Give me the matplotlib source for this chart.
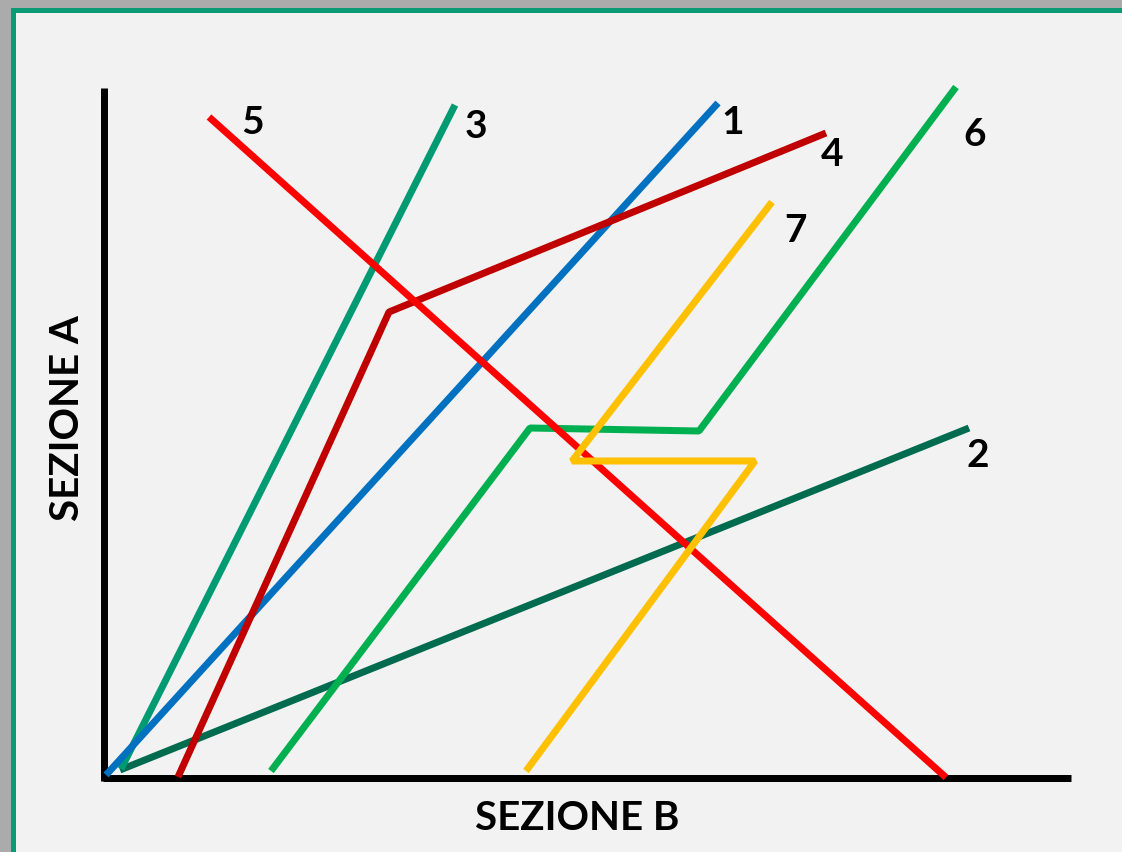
import matplotlib
matplotlib.use("Agg")
import matplotlib.pyplot as plt
from matplotlib.patches import Rectangle

plt.rcParams['font.family'] = ['Lato', 'DejaVu Sans']

# Data: every path in axis units (origin at the corner of the two black axes)
names = ['1', '2', '3', '4', '5', '6', '7']
colors = ['#0070c0', '#006b4e', '#009b72', '#c00000', '#ff0000', '#00b050', '#ffc000']

path_x = {
    '1': [2.5, 614.5],
    '2': [16.5, 865.5],
    '3': [17.5, 351.5],
    '4': [74.5, 285.5, 722.5],
    '5': [105.5, 842.5],
    '6': [167.5, 426.5, 595.5, 852.5],
    '7': [422.5, 651.5, 468.5, 668.5],
}
path_y = {
    '1': [2.5, 674.5],
    '2': [7.5, 349.5],
    '3': [8.5, 672.5],
    '4': [0.5, 465.5, 644.5],
    '5': [660.5, 0.0],
    '6': [6.5, 349.5, 346.5, 690.5],
    '7': [6.5, 316.5, 316.5, 575.5],
}

# where each number sits
label_x = {'1': 629.5, '2': 874.5, '3': 372.5, '4': 728.5, '5': 149.5, '6': 871.5, '7': 692.5}
label_y = {'1': 655.5, '2': 322.5, '3': 652.5, '4': 624.5, '5': 655.5, '6': 644.5, '7': 547.5}

x_label = 'SEZIONE B'
y_label = 'SEZIONE A'

W, H = 1122, 853
fig = plt.figure(figsize=(W / 100, H / 100), dpi=100)
fig.patch.set_facecolor('#ababab')

# background panel with green frame
bg = fig.add_axes([0, 0, 1, 1])
bg.set_xlim(0, W)
bg.set_ylim(H, 0)
bg.axis('off')
bg.add_patch(Rectangle((13.5, 10.5), W + 20, H + 20, facecolor='#f2f2f2',
                       edgecolor='#0b9a74', linewidth=3.6))

# chart axes
x0, y0 = 103.5, 778.5
xmax, ymax = 967.5, 689.5
ax = fig.add_axes([x0 / W, (H - y0) / H, xmax / W, ymax / H])
ax.set_xlim(0, xmax)
ax.set_ylim(0, ymax)
ax.patch.set_alpha(0)
for s in ax.spines.values():
    s.set_visible(False)
ax.set_xticks([])
ax.set_yticks([])

lw = 5.04  # 7 px
ax.plot([0, 0], [-3.5, ymax], color='black', lw=lw, solid_capstyle='butt', clip_on=False)
ax.plot([-0.5, xmax], [0, 0], color='black', lw=lw, solid_capstyle='butt', clip_on=False)

order = ['2', '3', '1', '4', '6', '5', '7']
for n in order:
    c = colors[names.index(n)]
    ax.plot(path_x[n], path_y[n], color=c, lw=lw, solid_capstyle='butt',
            solid_joinstyle='bevel', clip_on=False)

for n in names:
    ax.text(label_x[n], label_y[n], n, fontsize=28, fontweight='bold',
            ha='center', va='center')

bg.text(577, 819, x_label, fontsize=29, fontweight='bold', ha='center', va='center')
bg.text(68, 418, y_label, fontsize=29, fontweight='bold', ha='center', va='center',
        rotation=90)

fig.savefig('out.png', dpi=100, facecolor=fig.get_facecolor())
